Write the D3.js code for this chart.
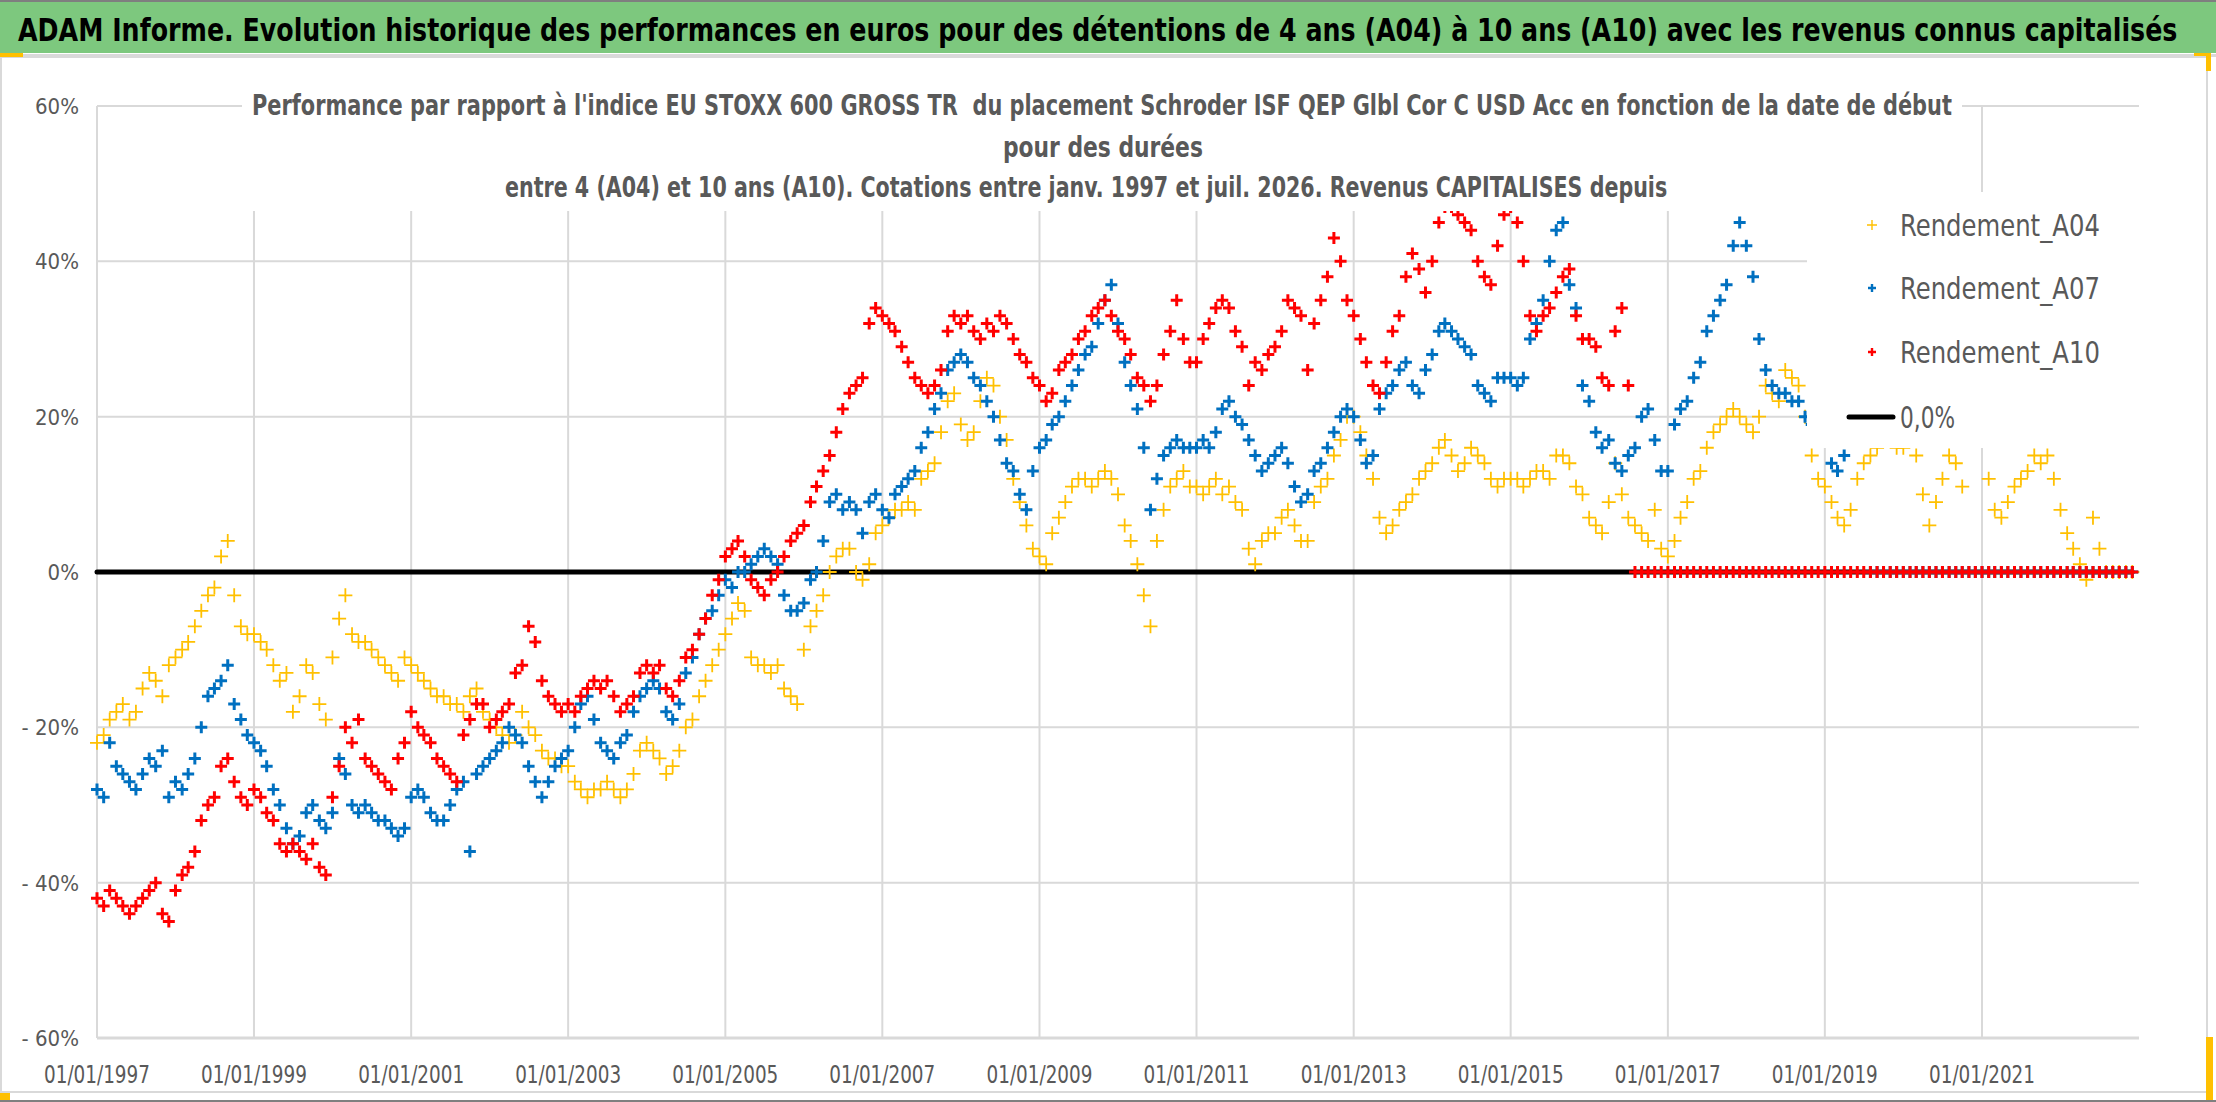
<!DOCTYPE html>
<html>
<head>
<meta charset="utf-8">
<script src="https://cdn.jsdelivr.net/npm/d3@7"></script>
<style>
    body { margin: 0; background: #fff; }
    text { font-family: "Liberation Sans Narrow", "DejaVu Sans Condensed", "Arial Narrow", sans-serif; }
</style>
</head>
<body>
<div id="chart"></div>
<script>
/* Rendements glissants A04 / A07 / A10 vs EU STOXX 600 GROSS TR,
 * one value per month of start date, janv. 1997 -> déc. 2022 */

var startYear = 1997;

var rendA04 = [
    -22, -21, -19, -18, -17, -19, -18, -15, -13, -14, -16, -12,   // 1997
    -11, -10, -9, -7, -5, -3, -2, 2, 4, -3, -7, -8,               // 1998
    -8, -9, -10, -12, -14, -13, -18, -16, -12, -13, -17, -19,     // 1999
    -11, -6, -3, -8, -9, -9, -10, -11, -12, -13, -14, -11,        // 2000
    -12, -13, -14, -15, -16, -16, -17, -17, -18, -16, -15, -18,   // 2001
    -19, -20, -21, -22, -21, -18, -20, -21, -23, -24, -24, -25,   // 2002
    -25, -27, -28, -29, -28, -28, -27, -28, -29, -28, -26, -23,   // 2003
    -22, -23, -24, -26, -25, -23, -20, -19, -16, -14, -12, -10,   // 2004
    -8, -6, -4, -5, -11, -12, -12, -13, -12, -15, -16, -17,       // 2005
    -10, -7, -5, -3, 0, 2, 3, 3, 0, -1, 1, 5,                     // 2006
    6, 7, 8, 8, 9, 8, 12, 13, 14, 18, 22, 23,                     // 2007
    19, 17, 18, 22, 25, 24, 20, 17, 12, 9, 6, 3,                  // 2008
    2, 1, 5, 7, 9, 11, 12, 12, 11, 12, 13, 12,                    // 2009
    10, 6, 4, 1, -3, -7, 4, 8, 11, 12, 13, 11,                    // 2010
    11, 10, 11, 12, 10, 11, 9, 8, 3, 1, 4, 5,                     // 2011
    5, 7, 8, 6, 4, 4, 9, 11, 12, 15, 17, 20,                      // 2012
    20, 18, 15, 12, 7, 5, 6, 8, 9, 10, 12, 13,                    // 2013
    14, 16, 17, 15, 13, 14, 16, 15, 14, 12, 11, 12,               // 2014
    12, 12, 11, 12, 13, 13, 12, 15, 15, 14, 11, 10,               // 2015
    7, 6, 5, 9, 14, 10, 7, 6, 5, 4, 8, 3,                         // 2016
    2, 4, 7, 9, 12, 13, 16, 18, 19, 20, 21, 20,                   // 2017
    19, 18, 20, 24, 23, 22, 26, 25, 24, 20, 15, 12,               // 2018
    11, 9, 7, 6, 8, 12, 14, 15, 16, 17, 17, 16,                   // 2019
    16, 17, 15, 10, 6, 9, 12, 15, 14, 11, 17, 18,                 // 2020
    17, 12, 8, 7, 9, 11, 12, 13, 15, 14, 15, 12,                  // 2021
    8, 5, 3, 1, -1, 7, 3, 0, 0, 0, 0, 0                           // 2022
];

var rendA07 = [
    -28, -29, -22, -25, -26, -27, -28, -26, -24, -25, -23, -29,   // 1997
    -27, -28, -26, -24, -20, -16, -15, -14, -12, -17, -19, -21,   // 1998
    -22, -23, -25, -28, -30, -33, -35, -34, -31, -30, -32, -33,   // 1999
    -31, -24, -26, -30, -31, -30, -31, -32, -32, -33, -34, -33,   // 2000
    -29, -28, -29, -31, -32, -32, -30, -28, -27, -36, -26, -25,   // 2001
    -24, -23, -22, -20, -21, -22, -25, -27, -29, -27, -25, -24,   // 2002
    -23, -20, -17, -16, -19, -22, -23, -24, -22, -21, -18, -16,   // 2003
    -15, -14, -15, -18, -19, -17, -13, -11, -8, -6, -5, -3,       // 2004
    -1, -2, 0, 0, 1, 2, 3, 2, 1, -3, -5, -5,                      // 2005
    -4, -1, 0, 4, 9, 10, 8, 9, 8, 5, 9, 10,                       // 2006
    8, 7, 10, 11, 12, 13, 16, 18, 21, 23, 26, 27,                 // 2007
    28, 27, 25, 24, 22, 20, 17, 14, 13, 10, 8, 13,                // 2008
    16, 17, 19, 20, 22, 24, 26, 28, 29, 32, 35, 37,               // 2009
    32, 27, 24, 21, 16, 8, 12, 15, 16, 17, 16, 16,                // 2010
    16, 17, 16, 18, 21, 22, 20, 19, 17, 15, 13, 14,               // 2011
    15, 16, 14, 11, 9, 10, 13, 14, 16, 18, 20, 21,                // 2012
    20, 17, 14, 15, 21, 23, 24, 26, 27, 24, 23, 26,               // 2013
    28, 31, 32, 31, 30, 29, 28, 24, 23, 22, 25, 25,               // 2014
    25, 24, 25, 30, 32, 35, 40, 44, 45, 37, 34, 24,               // 2015
    22, 18, 16, 17, 14, 13, 15, 16, 20, 21, 17, 13,               // 2016
    13, 19, 21, 22, 25, 27, 31, 33, 35, 37, 42, 45,               // 2017
    42, 38, 30, 26, 24, 23, 23, 22, 22, 20, 19, 18,               // 2018
    17, 14, 13, 15, 17, 18, 18, 0, 0, 0, 0, 0,                    // 2019
    0, 0, 0, 0, 0, 0, 0, 0, 0, 0, 0, 0,                           // 2020
    0, 0, 0, 0, 0, 0, 0, 0, 0, 0, 0, 0,                           // 2021
    0, 0, 0, 0, 0, 0, 0, 0, 0, 0, 0, 0                            // 2022
];

var rendA10 = [
    -42, -43, -41, -42, -43, -44, -43, -42, -41, -40, -44, -45,   // 1997
    -41, -39, -38, -36, -32, -30, -29, -25, -24, -27, -29, -30,   // 1998
    -28, -29, -31, -32, -35, -36, -35, -36, -37, -35, -38, -39,   // 1999
    -29, -25, -20, -22, -19, -24, -25, -26, -27, -28, -24, -22,   // 2000
    -18, -20, -21, -22, -24, -25, -26, -27, -21, -19, -17, -17,   // 2001
    -20, -19, -18, -17, -13, -12, -7, -9, -14, -16, -17, -18,     // 2002
    -17, -18, -16, -15, -14, -15, -14, -16, -18, -17, -16, -13,   // 2003
    -12, -13, -12, -15, -16, -14, -11, -10, -8, -6, -3, -1,       // 2004
    2, 3, 4, 2, -1, -2, -3, -1, 0, 2, 4, 5,                       // 2005
    6, 9, 11, 13, 15, 18, 21, 23, 24, 25, 32, 34,                 // 2006
    33, 32, 31, 29, 27, 25, 24, 23, 24, 26, 31, 33,               // 2007
    32, 33, 31, 30, 32, 31, 33, 32, 30, 28, 27, 25,               // 2008
    24, 22, 23, 26, 27, 28, 30, 31, 33, 34, 35, 33,               // 2009
    31, 30, 28, 25, 24, 22, 24, 28, 31, 35, 30, 27,               // 2010
    27, 30, 32, 34, 35, 34, 31, 29, 24, 27, 26, 28,               // 2011
    29, 31, 35, 34, 33, 26, 32, 35, 38, 43, 40, 35,               // 2012
    33, 30, 27, 24, 23, 27, 31, 33, 38, 41, 39, 36,               // 2013
    40, 45, 47, 47, 46, 45, 44, 40, 38, 37, 42, 46,               // 2014
    47, 45, 40, 33, 31, 33, 34, 36, 38, 39, 33, 30,               // 2015
    30, 29, 25, 24, 31, 34, 24, 0, 0, 0, 0, 0,                    // 2016
    0, 0, 0, 0, 0, 0, 0, 0, 0, 0, 0, 0,                           // 2017
    0, 0, 0, 0, 0, 0, 0, 0, 0, 0, 0, 0,                           // 2018
    0, 0, 0, 0, 0, 0, 0, 0, 0, 0, 0, 0,                           // 2019
    0, 0, 0, 0, 0, 0, 0, 0, 0, 0, 0, 0,                           // 2020
    0, 0, 0, 0, 0, 0, 0, 0, 0, 0, 0, 0,                           // 2021
    0, 0, 0, 0, 0, 0, 0, 0, 0, 0, 0, 0                            // 2022
];

var zeroLevel = 0;

var seriesNames = ["Rendement_A04", "Rendement_A07", "Rendement_A10"];
var seriesColors = ["#FFC000", "#0070C0", "#FF0000"];
var zeroName = "0,0%";

var yTicks = [-60, -40, -20, 0, 20, 40, 60];
var xTickYears = [1997, 1999, 2001, 2003, 2005, 2007, 2009, 2011, 2013, 2015, 2017, 2019, 2021];

var mainTitle = "ADAM Informe. Evolution historique des performances en euros pour des détentions de 4 ans (A04) à 10 ans (A10) avec les revenus connus capitalisés";
var chartTitle = [
    "Performance par rapport à l'indice EU STOXX 600 GROSS TR  du placement Schroder ISF QEP Glbl Cor C USD Acc en fonction de la date de début",
    "pour des durées",
    "entre 4 (A04) et 10 ans (A10). Cotations entre janv. 1997 et juil. 2026. Revenus CAPITALISES depuis"
];


var W = 2216, H = 1102;
var plot = {left: 97, right: 2139, top: 106, bottom: 1038};

var svg = d3.select("#chart").append("svg")
    .attr("width", W)
    .attr("height", H);

svg.append("rect")
    .attr("width", W)
    .attr("height", H)
    .attr("fill", "#fff");

var x = d3.scaleTime()
    .domain([new Date(startYear, 0, 1), new Date(2023, 0, 1)])
    .range([plot.left, plot.right]);

var y = d3.scaleLinear()
    .domain([-60, 60])
    .range([plot.bottom, plot.top]);

function monthDate(i) {
    return new Date(startYear, i, 1);
}

// squeeze a text to a given width: smaller font, stretched back vertically
function fitWidth(sel, target) {
    sel.each(function(d, i) {
        var t = d3.select(this);
        var w = typeof target === "function" ? target(d, i) : target;
        var len = this.getComputedTextLength();
        var fs = parseFloat(t.style("font-size"));
        var k = w / len;
        var x0 = +t.attr("x"), y0 = +t.attr("y");
        t.style("font-size", (fs * k) + "px")
            .attr("transform", "translate(" + x0 + "," + y0 + ") scale(1," + (1 / k) + ") translate(" + (-x0) + "," + (-y0) + ")");
    });
}

// green banner with the report title
svg.append("rect")
    .attr("x", 0).attr("y", 0)
    .attr("width", W).attr("height", 2)
    .attr("fill", "#7f7f7f");

svg.append("rect")
    .attr("x", 0).attr("y", 2)
    .attr("width", W).attr("height", 51)
    .attr("fill", "#7DC87E");

svg.append("rect")
    .attr("x", 0).attr("y", 54)
    .attr("width", W).attr("height", 3)
    .attr("fill", "#d9d9d9");

svg.append("text")
    .attr("x", 18)
    .attr("y", 41)
    .style("font-size", "32px")
    .style("font-weight", "bold")
    .attr("fill", "#000")
    .text(mainTitle)
    .call(fitWidth, 2160);

// chart area frame + selection handles
svg.append("rect")
    .attr("x", 1).attr("y", 57)
    .attr("width", 2206).attr("height", 1035)
    .attr("fill", "none")
    .attr("stroke", "#d9d9d9")
    .attr("stroke-width", 2);

svg.append("rect").attr("x", 0).attr("y", 1100).attr("width", W).attr("height", 2).attr("fill", "#7f7f7f");
svg.append("rect").attr("x", 0).attr("y", 53).attr("width", 23).attr("height", 4).attr("fill", "#FFC000");
svg.append("rect").attr("x", 0).attr("y", 1093).attr("width", 10).attr("height", 7).attr("fill", "#FFC000");
svg.append("rect").attr("x", 2194).attr("y", 53).attr("width", 16).attr("height", 3).attr("fill", "#FFC000");
svg.append("rect").attr("x", 2206).attr("y", 53).attr("width", 5).attr("height", 18).attr("fill", "#FFC000");
svg.append("rect").attr("x", 2206).attr("y", 1037).attr("width", 7).attr("height", 63).attr("fill", "#FFC000");

// gridlines
svg.append("g")
    .selectAll("line")
    .data(yTicks)
    .enter()
    .append("line")
    .attr("x1", plot.left)
    .attr("x2", plot.right)
    .attr("y1", function(d) { return y(d); })
    .attr("y2", function(d) { return y(d); })
    .attr("stroke", "#d9d9d9")
    .attr("stroke-width", function(d) { return d === -60 ? 3 : 2; });

svg.append("g")
    .selectAll("line")
    .data(xTickYears)
    .enter()
    .append("line")
    .attr("x1", function(d) { return x(new Date(d, 0, 1)); })
    .attr("x2", function(d) { return x(new Date(d, 0, 1)); })
    .attr("y1", plot.top)
    .attr("y2", plot.bottom)
    .attr("stroke", "#d9d9d9")
    .attr("stroke-width", 2);

// axis labels
var pctFormat = function(v) {
    return v < 0 ? "- " + Math.abs(v) + "%" : v + "%";
};

svg.append("g")
    .selectAll("text")
    .data(yTicks)
    .enter()
    .append("text")
    .attr("x", 79)
    .attr("y", function(d) { return y(d) + 8; })
    .attr("text-anchor", "end")
    .attr("fill", "#595959")
    .style("font-size", "22px")
    .text(pctFormat);

var dateFormat = d3.timeFormat("%d/%m/%Y");

svg.append("g")
    .selectAll("text")
    .data(xTickYears)
    .enter()
    .append("text")
    .attr("x", function(d) { return x(new Date(d, 0, 1)) - 53; })
    .attr("y", 1083)
    .attr("fill", "#595959")
    .style("font-size", "24px")
    .text(function(d) { return dateFormat(new Date(d, 0, 1)); })
    .call(fitWidth, 106);

// 0,0% reference line
var zeroLine = d3.line()
    .x(function(d, i) { return x(monthDate(i)); })
    .y(function() { return y(zeroLevel); });

svg.append("path")
    .datum(rendA04)
    .attr("d", zeroLine)
    .attr("fill", "none")
    .attr("stroke", "#000")
    .attr("stroke-width", 5)
    .attr("stroke-linecap", "round");

// "+" markers for each series
function plusPath(s) {
    return "M" + (-s) + ",0H" + s + "M0," + (-s) + "V" + s;
}

var allSeries = [rendA04, rendA07, rendA10];
var markerSize = [7, 6, 6];
var markerWidth = [1.8, 3, 3];

allSeries.forEach(function(values, k) {
    svg.append("g")
        .attr("class", "series-" + k)
        .selectAll("path")
        .data(values)
        .enter()
        .append("path")
        .attr("transform", function(d, i) {
            return "translate(" + x(monthDate(i)) + "," + y(d) + ")";
        })
        .attr("d", plusPath(markerSize[k]))
        .attr("fill", "none")
        .attr("stroke", seriesColors[k])
        .attr("stroke-width", markerWidth[k]);
});

// chart title (white box over the plot)
svg.append("rect")
    .attr("x", 242)
    .attr("y", 86)
    .attr("width", 1720)
    .attr("height", 125)
    .attr("fill", "#fff");

var titlePos = [
    {x: 252, y: 115, len: 1701},
    {x: 1003, y: 157, len: 200},
    {x: 505, y: 197, len: 1163}
];

svg.append("g")
    .selectAll("text")
    .data(chartTitle)
    .enter()
    .append("text")
    .attr("x", function(d, i) { return titlePos[i].x; })
    .attr("y", function(d, i) { return titlePos[i].y; })
    .style("white-space", "pre")
    .style("font-size", "29px")
    .style("font-weight", "bold")
    .attr("fill", "#595959")
    .text(function(d) { return d; })
    .call(fitWidth, function(d, i) { return titlePos[i].len; });

// legend
svg.append("rect")
    .attr("x", 1807)
    .attr("y", 192)
    .attr("width", 334)
    .attr("height", 256)
    .attr("fill", "#fff");

var legendY = [225, 288, 352];

seriesNames.forEach(function(name, k) {
    svg.append("path")
        .attr("transform", "translate(1872," + legendY[k] + ")")
        .attr("d", plusPath(k === 0 ? 5 : 4))
        .attr("fill", "none")
        .attr("stroke", seriesColors[k])
        .attr("stroke-width", k === 0 ? 1.4 : 2.4);

    svg.append("text")
        .attr("x", 1900)
        .attr("y", legendY[k] + 11)
        .style("font-size", "31px")
        .attr("fill", "#595959")
        .text(name)
        .call(fitWidth, 200);
});

svg.append("line")
    .attr("x1", 1849)
    .attr("x2", 1893)
    .attr("y1", 417)
    .attr("y2", 417)
    .attr("stroke", "#000")
    .attr("stroke-width", 5)
    .attr("stroke-linecap", "round");

svg.append("text")
    .attr("x", 1900)
    .attr("y", 428)
    .style("font-size", "31px")
    .attr("fill", "#595959")
    .text(zeroName)
    .call(fitWidth, 55);
</script>
</body>
</html>
